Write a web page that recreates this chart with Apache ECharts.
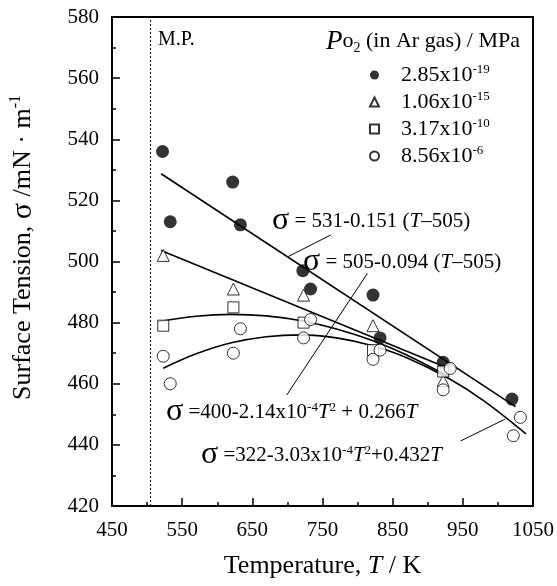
<!DOCTYPE html>
<html>
<head>
<meta charset="utf-8">
<script src="https://cdn.jsdelivr.net/npm/echarts@6/dist/echarts.min.js"></script>
<style>
  html, body { margin: 0; padding: 0; background: #fff; }
  #chart { width: 557px; height: 586px; }
</style>
</head>
<body>
<div id="chart"></div>
<script>
const FONT = '"Liberation Serif", "Times New Roman", serif';

// measured points [T (K), sigma (mN/m)]
const seriesNames = ['2.85x10-19', '1.06x10-15', '3.17x10-10', '8.56x10-6'];
const ptsFilled = [[522, 536], [533, 513], [622, 526], [633, 512], [722, 497], [733, 491], [822, 489], [832, 475], [922, 467], [1020, 455]];
const ptsTri = [[523, 502], [623, 491], [723, 489], [822, 479], [922, 461]];
const ptsSquare = [[523, 479], [623, 485], [723, 480], [822, 471], [922, 464]];
const ptsCircle = [[523, 469], [533, 460], [623, 470], [633, 478], [723, 475], [733, 481], [822, 468], [832, 471], [922, 458], [932, 465], [1022, 443], [1032, 449]];

// fitted lines
const fitA = [[520, 528.7], [1025, 452.5]];
const fitB = [[520, 503.6], [930, 465.0]];
const fitC = [[516, 480.3], [570, 482.1], [620, 482.7], [670, 482.2], [720, 480.6], [770, 477.9], [820, 474.2], [870, 469.4], [930, 462.3]];
const fitD = [[523, 465.1], [570, 469.8], [620, 473.4], [670, 475.4], [720, 476.0], [770, 475.0], [820, 472.5], [870, 468.5], [930, 461.7], [980, 454.4], [1040, 443.6]];

// leader lines from the equations
const leadA = [[762, 508.7], [701, 501.6]];
const leadB = [[814, 496.1], [699, 456.3]];
const leadD = [[947, 441.3], [1010, 448.4]];

const meltingPoint = 505;
const xMajor = [450, 550, 650, 750, 850, 950, 1050];
const xMinor = [500, 600, 700, 800, 900, 1000];

const chart = echarts.init(document.getElementById('chart'), null, { renderer: 'canvas' });

const lineSeries = (data, width) => ({
  type: 'line',
  data: data,
  showSymbol: false,
  symbol: 'none',
  silent: true,
  lineStyle: { color: '#000', width: width },
  z: 2
});

const smoothLine = (data) => Object.assign(lineSeries(data, 1.6), { smooth: 0.35 });

const scatter = (name, data, symbol, size, filled) => ({
  name: name,
  type: 'scatter',
  data: data,
  symbol: symbol,
  symbolSize: size,
  itemStyle: filled
    ? { color: '#000' }
    : { color: '#fff', borderColor: '#000', borderWidth: 1 },
  z: 5
});

const txt = { fontFamily: FONT, fontSize: 21, color: '#000' };

// rich styles shared by the equation labels
const eqRich = {
  s: { fontFamily: FONT, fontSize: 32, fill: '#000', lineHeight: 22 },
  t: { fontFamily: FONT, fontSize: 21, fill: '#000', lineHeight: 22 },
  i: { fontFamily: FONT, fontSize: 21, fontStyle: 'italic', fill: '#000', lineHeight: 22 },
  sup: { fontFamily: FONT, fontSize: 13, fill: '#000', verticalAlign: 'top', lineHeight: 13 }
};

const option = {
  backgroundColor: '#fff',
  animation: false,
  grid: {
    left: 110, right: 22, top: 17, bottom: 80,
    show: true, borderColor: '#000', borderWidth: 2
  },
  legend: {
    data: seriesNames,
    orient: 'vertical',
    left: 364, top: 58,
    itemWidth: 9, itemHeight: 9, itemGap: 4,
    selectedMode: false,
    formatter: (name) => {
      const parts = name.split('x10');
      return '{b|' + parts[0] + 'x10}{sup|' + parts[1] + '}';
    },
    textStyle: {
      padding: [0, 0, 0, 17],
      rich: {
        b: { fontFamily: FONT, fontSize: 22, color: '#000', lineHeight: 24 },
        sup: { fontFamily: FONT, fontSize: 13, color: '#000', verticalAlign: 'top', lineHeight: 14 }
      }
    }
  },
  xAxis: [
    {
      type: 'value', min: 450, max: 1050, position: 'bottom',
      name: 'Temperature, {i|T} / K',
      nameLocation: 'middle', nameGap: 47,
      nameTextStyle: {
        fontFamily: FONT, fontSize: 26, color: '#000',
        rich: { i: { fontFamily: FONT, fontSize: 26, fontStyle: 'italic', color: '#000' } }
      },
      axisLine: { lineStyle: { color: '#000', width: 2 } },
      axisTick: { inside: true, length: 8, customValues: xMajor, lineStyle: { color: '#000', width: 1.5 } },
      axisLabel: Object.assign({ margin: 14, customValues: xMajor, formatter: (v) => String(v) }, txt),
      splitLine: { show: false }
    },
    {
      type: 'value', min: 450, max: 1050, position: 'bottom',
      axisLine: { show: false },
      axisTick: { inside: true, length: 4, customValues: xMinor, lineStyle: { color: '#000', width: 1.5 } },
      axisLabel: { show: false },
      splitLine: { show: false }
    }
  ],
  yAxis: {
    type: 'value', min: 420, max: 580, interval: 20,
    name: 'Surface Tension, {s|σ} /mN · m{sup|-1}',
    nameLocation: 'middle', nameGap: 74,
    nameTextStyle: {
      fontFamily: FONT, fontSize: 26, color: '#000',
      padding: [0, 0, 0, 28],
      rich: {
        s: { fontFamily: FONT, fontSize: 30, color: '#000' },
        sup: { fontFamily: FONT, fontSize: 16, color: '#000', verticalAlign: 'top' }
      }
    },
    axisLine: { lineStyle: { color: '#000', width: 2 } },
    axisTick: { inside: true, length: 8, lineStyle: { color: '#000', width: 1.5 } },
    minorTick: { show: true, splitNumber: 2, length: 4, lineStyle: { color: '#000', width: 1.5 } },
    axisLabel: Object.assign({ margin: 13 }, txt),
    splitLine: { show: false }
  },
  graphic: [
    {
      type: 'text', left: 158, top: 30,
      style: { text: 'M.P.', fontFamily: FONT, fontSize: 20, fill: '#000' }
    },
    {
      type: 'text', left: 326, top: 28,
      style: {
        text: '{p|P}{o|o}{sub|2}{o| (in Ar gas) / MPa}',
        rich: {
          p: { fontFamily: FONT, fontSize: 27, fontStyle: 'italic', fill: '#000' },
          o: { fontFamily: FONT, fontSize: 22, fill: '#000' },
          sub: { fontFamily: FONT, fontSize: 14, fill: '#000', verticalAlign: 'bottom' }
        }
      }
    },
    {
      type: 'text', left: 272, top: 205,
      style: { text: '{s|σ}{t| = 531-0.151 (}{i|T}{t|–505)}', rich: eqRich }
    },
    {
      type: 'text', left: 303, top: 246,
      style: { text: '{s|σ}{t| = 505-0.094 (}{i|T}{t|–505)}', rich: eqRich }
    },
    {
      type: 'text', left: 166, top: 396,
      style: { text: '{s|σ}{t| =400-2.14x10}{sup|-4}{i|T}{sup|2}{t| + 0.266}{i|T}', rich: eqRich }
    },
    {
      type: 'text', left: 201, top: 439,
      style: { text: '{s|σ}{t| =322-3.03x10}{sup|-4}{i|T}{sup|2}{t|+0.432}{i|T}', rich: eqRich }
    }
  ],
  series: [
    Object.assign(lineSeries([[meltingPoint, 420], [meltingPoint, 580]], 1), {
      lineStyle: { color: '#000', width: 1, type: [2, 2] }
    }),
    lineSeries(fitA, 1.6),
    lineSeries(fitB, 1.6),
    smoothLine(fitC),
    smoothLine(fitD),
    lineSeries(leadA, 1),
    lineSeries(leadB, 1),
    lineSeries(leadD, 1),
    scatter(seriesNames[0], ptsFilled, 'circle', 13, true),
    scatter(seriesNames[1], ptsTri, 'triangle', 12, false),
    scatter(seriesNames[2], ptsSquare, 'rect', 11, false),
    scatter(seriesNames[3], ptsCircle, 'circle', 12, false)
  ]
};

chart.setOption(option);
window.addEventListener('resize', () => chart.resize());
</script>
</body>
</html>
